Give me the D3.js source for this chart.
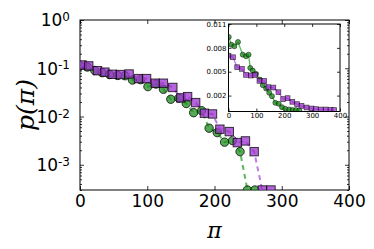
<!DOCTYPE html>
<html>
<head>
<meta charset="utf-8">
<script src="https://cdn.jsdelivr.net/npm/d3@7"></script>
<style>
  body { margin: 0; background: #fff; }
  text { font-family: "DejaVu Sans", sans-serif; fill: #000; }
</style>
</head>
<body>
<div id="chart"></div>
<script>
// main panel data (log y)
var mainPurplePi = [3, 13, 26, 37, 48, 60, 73, 87, 99, 112, 124, 138, 150, 160, 172, 185, 197, 208, 222, 234, 246, 259, 271, 284];
var mainPurpleP = [0.117, 0.112, 0.089, 0.083, 0.075, 0.074, 0.076, 0.061, 0.061, 0.049, 0.049, 0.040, 0.0243, 0.0258, 0.0194, 0.0117, 0.0113, 0.00546, 0.00487, 0.00288, 0.00312, 0.00187, 0, 0];
var mainGreenPi = [0, 11, 22, 33, 44, 56, 67, 78, 90, 101, 113, 124, 135, 147, 158, 169, 181, 192, 204, 215, 227, 238, 249, 260];
var mainGreenP = [0.112, 0.106, 0.09, 0.081, 0.074, 0.071, 0.07, 0.057, 0.058, 0.0416, 0.047, 0.0367, 0.0228, 0.024, 0.0186, 0.012, 0.0132, 0.00573, 0.00464, 0.00294, 0.00317, 0.00187, 0, 0];

// inset data (linear y)
var insetPurplePi = [0, 16, 31, 48, 63, 80, 95, 111, 128, 143, 161, 179, 196, 212, 229, 246, 262, 280, 298, 313, 331, 349, 366, 379];
var insetPurpleV = [0.00702, 0.00682, 0.00557, 0.00536, 0.0046, 0.00452, 0.0046, 0.00385, 0.00385, 0.00306, 0.00301, 0.00243, 0.00156, 0.00168, 0.00122, 0.00093, 0.00071, 0.0005, 0.00038, 0.0003, 0.00025, 0.00025, 0.0002, 0.00018];
var insetGreenPi = [1, 10, 21, 34, 51, 63, 72, 78, 87, 99, 113, 123, 135, 146, 156, 168, 180, 192, 204, 218, 230, 242, 254];
var insetGreenV = [0.00937, 0.0084, 0.0082, 0.00874, 0.00715, 0.00695, 0.00715, 0.00548, 0.00514, 0.00473, 0.00401, 0.00331, 0.00288, 0.00235, 0.00193, 0.00109, 0.00097, 0.00055, 0.00034, 0.00025, 0.00018, 0.00018, 0.00015];

var mainXTicks = [0, 100, 200, 300, 400];
var mainYTicks = [1, 0.1, 0.01, 0.001];
var mainYExp = ["0", "-1", "-2", "-3"];
var insetXTicks = [0, 100, 200, 300, 400];
var insetYTicks = [0.002, 0.005, 0.008, 0.011];

var svgWidth = 374;
var svgHeight = 249;
var margin = { top: 20, right: 25, bottom: 59, left: 80 };
var chartWidth = svgWidth - margin.left - margin.right;
var chartHeight = svgHeight - margin.top - margin.bottom;

var purpleFill = "#9932cc";
var greenFill = "#1e8c1e";
var purpleLine = "#c27ae6";
var greenLine = "#5cb85c";

var svg = d3.select("#chart").append("svg")
  .attr("width", svgWidth)
  .attr("height", svgHeight);

svg.append("defs").append("clipPath").attr("id", "mainClip")
  .append("rect").attr("width", chartWidth).attr("height", chartHeight);

var chartGroup = svg.append("g")
  .attr("transform", `translate(${margin.left}, ${margin.top})`);

var x = d3.scaleLinear().domain([0, 400]).range([0, chartWidth]);
var y = d3.scaleLog().domain([3e-4, 1]).range([chartHeight, 0]).clamp(true);

// minor log ticks
var minorTicks = [];
[1e-4, 1e-3, 1e-2, 1e-1].forEach(function(base) {
  for (var k = 2; k <= 9; k++) {
    var v = base * k;
    if (v >= 3e-4 && v < 1) minorTicks.push(v);
  }
});

function styleAxis(g) {
  g.select(".domain").remove();
  g.selectAll("line").attr("stroke", "#000").attr("stroke-width", 0.8);
}

chartGroup.append("g").call(d3.axisLeft(y).tickValues(minorTicks).tickSize(-2).tickFormat("")).call(styleAxis);
chartGroup.append("g").attr("transform", `translate(${chartWidth},0)`)
  .call(d3.axisRight(y).tickValues(minorTicks).tickSize(-2).tickFormat("")).call(styleAxis);
chartGroup.append("g").attr("transform", `translate(${chartWidth},0)`)
  .call(d3.axisRight(y).tickValues(mainYTicks).tickSize(-4).tickFormat("")).call(styleAxis);
chartGroup.append("g").call(d3.axisTop(x).tickValues(mainXTicks).tickSize(-4).tickFormat("")).call(styleAxis);

var leftAxis = chartGroup.append("g")
  .call(d3.axisLeft(y).tickValues(mainYTicks).tickSize(-4).tickPadding(10).tickFormat(""))
  .call(styleAxis);
leftAxis.selectAll(".tick").append("text")
  .attr("x", -10).attr("dy", "0.35em")
  .attr("text-anchor", "end")
  .style("font-size", "17px")
  .each(function(d, i) {
    var t = d3.select(this);
    t.append("tspan").text("10");
    t.append("tspan").attr("dy", "-0.45em").style("font-size", "12px").text(mainYExp[i]);
  });

chartGroup.append("g")
  .attr("transform", `translate(0, ${chartHeight})`)
  .call(d3.axisBottom(x).tickValues(mainXTicks).tickSize(-4).tickPadding(5))
  .call(styleAxis)
  .selectAll("text").style("font-size", "17px").attr("dy", "0.72em");

chartGroup.append("rect")
  .attr("width", chartWidth).attr("height", chartHeight)
  .attr("fill", "none").attr("stroke", "#000").attr("stroke-width", 1);

// series
var mainGreen = mainGreenPi.map((p, i) => ({ x: p, v: mainGreenP[i] }));
var mainPurple = mainPurplePi.map((p, i) => ({ x: p, v: mainPurpleP[i] }));

var plotArea = chartGroup.append("g").attr("clip-path", "url(#mainClip)");
var mainLine = d3.line().x(d => x(d.x)).y(d => y(d.v));

plotArea.append("path").datum(mainGreen)
  .attr("d", mainLine).attr("fill", "none")
  .attr("stroke", greenLine).attr("stroke-width", 2).attr("stroke-dasharray", "5,4");
plotArea.selectAll(".gdot").data(mainGreen).enter().append("circle")
  .attr("class", "gdot")
  .attr("cx", d => x(d.x)).attr("cy", d => y(d.v)).attr("r", 4.2)
  .attr("fill", greenFill).attr("fill-opacity", 0.75)
  .attr("stroke", "#000").attr("stroke-opacity", 0.75).attr("stroke-width", 1);

plotArea.append("path").datum(mainPurple)
  .attr("d", mainLine).attr("fill", "none")
  .attr("stroke", purpleLine).attr("stroke-width", 2).attr("stroke-dasharray", "5,4");
plotArea.selectAll(".psq").data(mainPurple).enter().append("rect")
  .attr("class", "psq")
  .attr("x", d => x(d.x) - 4.2).attr("y", d => y(d.v) - 4.2)
  .attr("width", 8.4).attr("height", 8.4)
  .attr("fill", purpleFill).attr("fill-opacity", 0.75)
  .attr("stroke", "#000").attr("stroke-opacity", 0.75).attr("stroke-width", 1);

// axis labels
svg.append("text")
  .attr("transform", `translate(34, ${margin.top + chartHeight / 2}) rotate(-90)`)
  .attr("text-anchor", "middle")
  .style("font-family", "'DejaVu Serif', serif")
  .style("font-style", "italic")
  .style("font-size", "25px")
  .text("p(π)");

svg.append("text")
  .attr("x", margin.left + chartWidth / 2)
  .attr("y", 238)
  .attr("text-anchor", "middle")
  .style("font-family", "'DejaVu Serif', serif")
  .style("font-style", "italic")
  .style("font-size", "22px")
  .text("π");

// inset
var inset = { left: 228.5, top: 24, width: 111.5, height: 87.5 };
svg.append("defs").append("clipPath").attr("id", "insetClip")
  .append("rect").attr("width", inset.width).attr("height", inset.height);

var insetGroup = svg.append("g")
  .attr("transform", `translate(${inset.left}, ${inset.top})`);

insetGroup.append("rect")
  .attr("width", inset.width).attr("height", inset.height)
  .attr("fill", "#fff");

var xi = d3.scaleLinear().domain([0, 400]).range([0, inset.width]);
var yi = d3.scaleLinear().domain([0, 0.011]).range([inset.height, 0]);

insetGroup.append("g")
  .call(d3.axisLeft(yi).tickValues(insetYTicks).tickSize(-3).tickPadding(2).tickFormat(d3.format(".3f")))
  .call(styleAxis)
  .selectAll("text").style("font-size", "7px");
insetGroup.append("g").attr("transform", `translate(${inset.width},0)`)
  .call(d3.axisRight(yi).tickValues(insetYTicks).tickSize(-3).tickFormat(""))
  .call(styleAxis);
insetGroup.append("g").attr("transform", `translate(0, ${inset.height})`)
  .call(d3.axisBottom(xi).tickValues(insetXTicks).tickSize(-3).tickPadding(2))
  .call(styleAxis)
  .selectAll("text").style("font-size", "7px");
insetGroup.append("g")
  .call(d3.axisTop(xi).tickValues(insetXTicks).tickSize(-3).tickFormat(""))
  .call(styleAxis);

var insetGreen = insetGreenPi.map((p, i) => ({ x: p, v: insetGreenV[i] }));
var insetPurple = insetPurplePi.map((p, i) => ({ x: p, v: insetPurpleV[i] }));
var insetLine = d3.line().x(d => xi(d.x)).y(d => yi(d.v));
var insetArea = insetGroup.append("g").attr("clip-path", "url(#insetClip)");

insetArea.append("path").datum(insetGreen)
  .attr("d", insetLine).attr("fill", "none")
  .attr("stroke", greenLine).attr("stroke-width", 1.3);
insetArea.selectAll(".igdot").data(insetGreen).enter().append("circle")
  .attr("class", "igdot")
  .attr("cx", d => xi(d.x)).attr("cy", d => yi(d.v)).attr("r", 2.5)
  .attr("fill", greenFill).attr("fill-opacity", 0.75)
  .attr("stroke", "#000").attr("stroke-opacity", 0.7).attr("stroke-width", 0.7);

insetArea.append("path").datum(insetPurple)
  .attr("d", insetLine).attr("fill", "none")
  .attr("stroke", purpleLine).attr("stroke-width", 1.3);
insetArea.selectAll(".ipsq").data(insetPurple).enter().append("rect")
  .attr("class", "ipsq")
  .attr("x", d => xi(d.x) - 2.4).attr("y", d => yi(d.v) - 2.4)
  .attr("width", 4.8).attr("height", 4.8)
  .attr("fill", purpleFill).attr("fill-opacity", 0.75)
  .attr("stroke", "#000").attr("stroke-opacity", 0.7).attr("stroke-width", 0.7);

insetGroup.append("rect")
  .attr("width", inset.width).attr("height", inset.height)
  .attr("fill", "none").attr("stroke", "#000").attr("stroke-width", 1);
</script>
</body>
</html>
